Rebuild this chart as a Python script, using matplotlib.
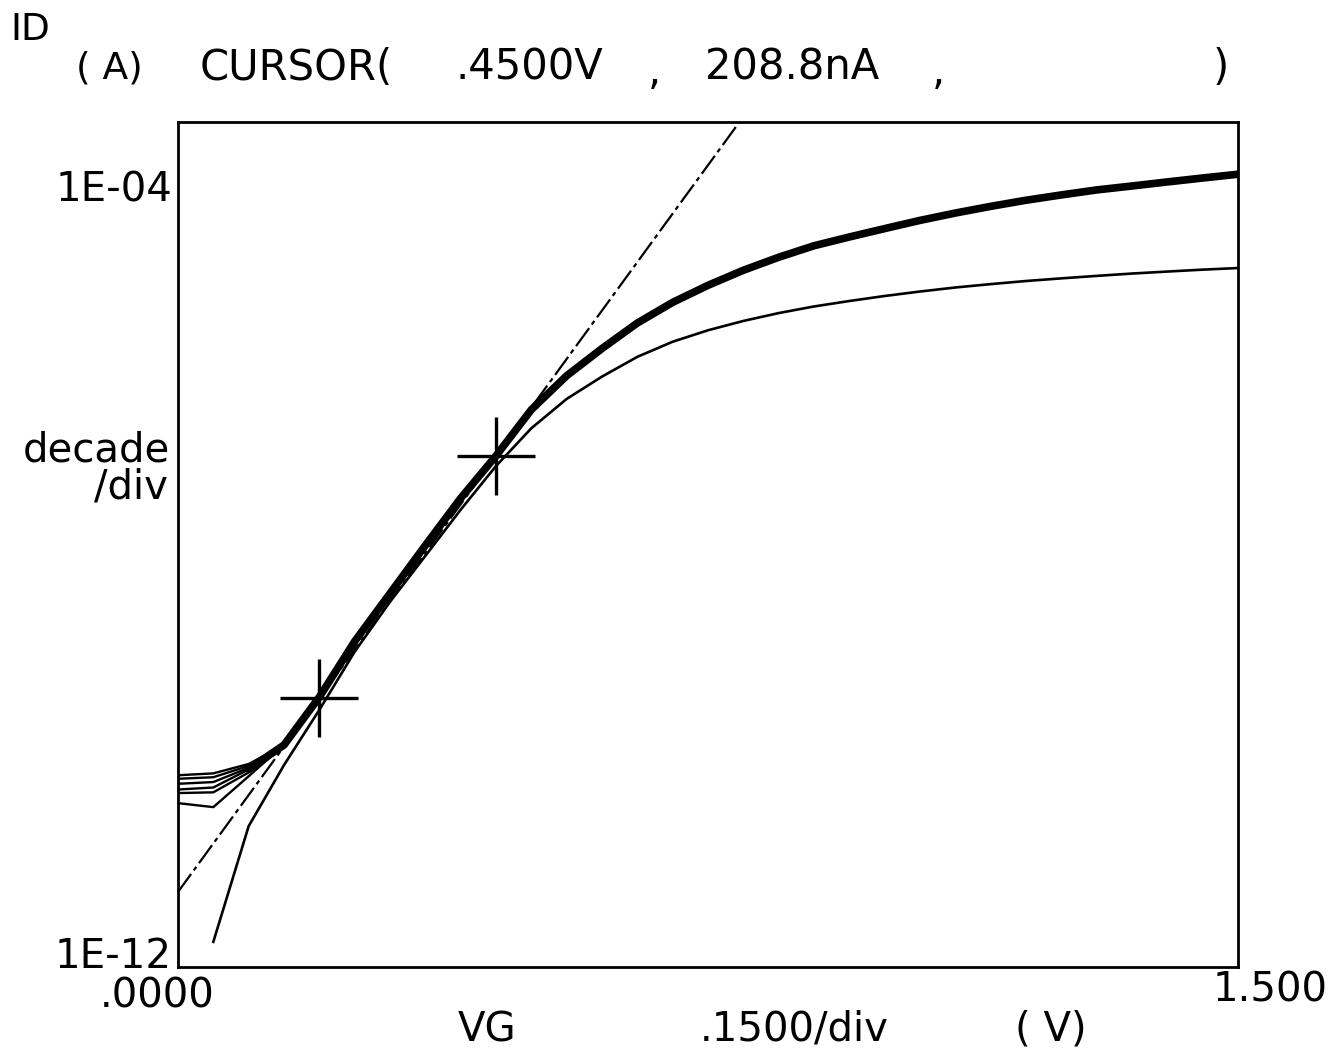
import numpy as np
import matplotlib
matplotlib.use("Agg")
from matplotlib import pyplot as plt

# gate voltage sweep (V), 50 mV steps
vg = [0.00, 0.05, 0.10, 0.15, 0.20, 0.25, 0.30, 0.35, 0.40, 0.45, 0.50,
      0.55, 0.60, 0.65, 0.70, 0.75, 0.80, 0.85, 0.90, 0.95, 1.00,
      1.05, 1.10, 1.15, 1.20, 1.25, 1.30, 1.35, 1.40, 1.45, 1.50]

# leakage floor of the six overlapping sweeps at VG = 0, 0.05, 0.10 V (A)
leak_0v = [8.5e-11, 7.8e-11, 6.9e-11, 6.0e-11, 5.5e-11, 4.3e-11]
leak_50mv = [8.9e-11, 8.1e-11, 7.2e-11, 6.3e-11, 5.6e-11, 3.9e-11]
leak_100mv = [1.12e-10, 1.07e-10, 1.02e-10, 9.8e-11, 9.1e-11, 8.3e-11]

# common ID of the six sweeps from VG = 0.15 V to 1.5 V (A)
id_main = [1.78e-10, 5.75e-10, 2.24e-9, 7.24e-9, 2.34e-8, 7.41e-8, 2.09e-7,
           6.46e-7, 1.48e-6, 2.88e-6, 5.37e-6, 8.9e-6, 1.35e-5, 1.95e-5,
           2.68e-5, 3.55e-5, 4.40e-5, 5.40e-5, 6.60e-5, 7.90e-5, 9.30e-5,
           1.08e-4, 1.23e-4, 1.39e-4, 1.53e-4, 1.69e-4, 1.86e-4, 2.04e-4]

# second (lower) device, VG = 0.05 V to 1.5 V (A)
id_low = [1.45e-12, 2.45e-11, 1.09e-10, 4.2e-10, 1.74e-9, 5.9e-9, 1.81e-8,
          5.6e-8, 1.63e-7, 4.1e-7, 8.4e-7, 1.45e-6, 2.35e-6, 3.40e-6,
          4.50e-6, 5.65e-6, 6.85e-6, 8.05e-6, 9.2e-6, 1.04e-5, 1.16e-5,
          1.28e-5, 1.39e-5, 1.50e-5, 1.60e-5, 1.70e-5, 1.80e-5, 1.89e-5,
          1.98e-5, 2.06e-5]

# cursor marks (V, A)
cursor_v = [0.20, 0.45]
cursor_i = [5.6e-10, 2.088e-7]

W, H = 1334, 1049
fig = plt.figure(figsize=(W / 100, H / 100), dpi=100)
ax = fig.add_axes([178 / W, (H - 967) / H, 1060 / W, 845 / H])
ax.set_yscale("log")
ax.set_xlim(0, 1.5)
ax.set_ylim(10 ** -12.106, 10 ** -3.136)
ax.tick_params(which="both", length=0, labelleft=False, labelbottom=False)
for s in ax.spines.values():
    s.set_linewidth(2.0)

# six sweeps: separate at the leakage floor, merged above
for i in range(6):
    y = [leak_0v[i], leak_50mv[i], leak_100mv[i]] + id_main
    ax.plot(vg, y, color="k", lw=1.7)
ax.plot(vg[2:], [np.mean(leak_100mv)] + id_main, color="k", lw=5.5,
        solid_capstyle="round", solid_joinstyle="round")

# lower device
ax.plot(vg[1:], id_low, color="k", lw=1.9, solid_joinstyle="round")

# slope line through the two cursors
lv = np.log10(cursor_i)
k = (lv[1] - lv[0]) / (cursor_v[1] - cursor_v[0])
xs = np.array([0.0, 1.5])
ax.plot(xs, 10 ** (lv[0] + k * (xs - cursor_v[0])), color="k", lw=1.6,
        dashes=(10, 2, 2, 2))

ax.plot(cursor_v, cursor_i, ls="none", marker="+", ms=56, mew=2.4, color="k")

fn = "DejaVu Sans"


def txt(x, y, s, ha="left", size=29):
    fig.text(x / W, 1 - y / H, s, ha=ha, va="center", fontsize=size,
             family=fn, color="k")


txt(10, 30, "ID", size=27)
txt(76, 68, "( A)", size=27)
txt(200, 68, "CURSOR(", size=30)
txt(455, 68, ".4500V", size=30)
txt(648, 72, ",", size=30)
txt(705, 68, "208.8nA", size=30)
txt(932, 72, ",", size=30)
txt(1213, 68, ")", size=30)
txt(172, 190, "1E-04", ha="right")
txt(170, 450, "decade", ha="right")
txt(168, 487, "/div", ha="right")
txt(172, 957, "1E-12", ha="right")
txt(100, 997, ".0000")
txt(1328, 990, "1.500", ha="right")
txt(458, 1030, "VG")
txt(700, 1030, ".1500/div")
txt(1015, 1030, "( V)")

fig.savefig("out.png", dpi=100, facecolor="white")
